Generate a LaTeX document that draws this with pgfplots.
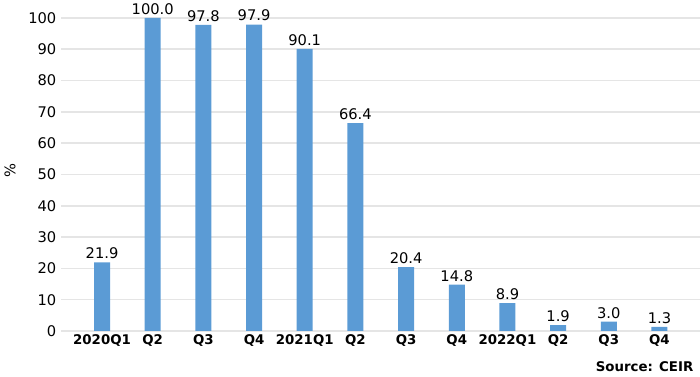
\documentclass[border=0pt]{standalone}
\usepackage{fontspec}
\setmainfont{DejaVu Sans}
\usepackage{pgfplots}
\pgfplotsset{compat=1.18}
\definecolor{barblue}{HTML}{5B9BD5}
\definecolor{gridgray}{HTML}{E5E5E5}
\begin{document}
\begin{tikzpicture}
\useasboundingbox (0pt,0pt) rectangle (525pt,282.75pt);
\begin{axis}[
  at={(45.75pt,34.5pt)}, anchor=south west,
  scale only axis,
  width=479.25pt, height=234.75pt,
  xmin=-0.81, xmax=11.8,
  ymin=0, ymax=100,
  ytick={0,10,...,100},
  xtick={0,...,11},
  xticklabels={2020Q1,Q2,Q3,Q4,2021Q1,Q2,Q3,Q4,2022Q1,Q2,Q3,Q4},
  x tick label style={font=\fontsize{10}{12}\selectfont\bfseries, yshift=1pt},
  y tick label style={font=\fontsize{11}{12}\selectfont},
  /pgf/number format/assume math mode=true,
  major tick length=0pt,
  axis line style={draw=none},
  ymajorgrids,
  grid style={gridgray, line width=1.2pt},
  ybar, bar width=12pt,
  nodes near coords,
  nodes near coords style={font=\fontsize{11}{12}\selectfont, yshift=-1pt,
    /pgf/number format/fixed, /pgf/number format/fixed zerofill, /pgf/number format/precision=1},
  clip=false,
]
\addplot[fill=barblue, draw=none] coordinates {
(0,21.9) (1,100.0) (2,97.8) (3,97.9) (4,90.1) (5,66.4)
(6,20.4) (7,14.8) (8,8.9) (9,1.9) (10,3.0) (11,1.3)
};
\end{axis}
\node[rotate=90, font=\fontsize{11}{12}\selectfont] at (7.5pt,155pt) {\%};
\node[anchor=east, font=\fontsize{10}{12}\selectfont\bfseries] at (523.5pt,7.5pt) {Source: CEIR};
\end{tikzpicture}
\end{document}
